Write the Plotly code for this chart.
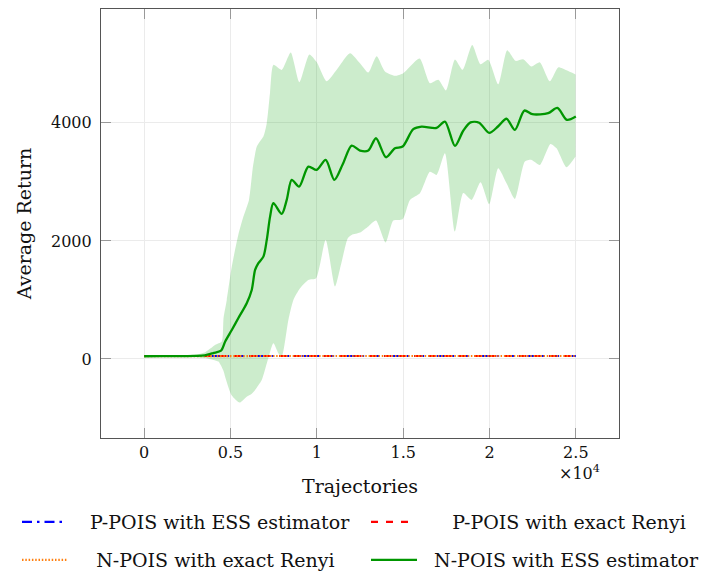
import plotly.graph_objects as go

# ---- N-POIS with ESS estimator: mean return and spread band ----
mean_x = [0, 1000, 2000, 3000, 3500, 4000, 4450, 4700, 5075, 5450, 5940, 6230, 6424, 6615,
          6905, 7100, 7292, 7484, 7966, 8256, 8546, 8970, 9510, 9992, 10513, 11014, 11500,
          12018, 12500, 12982, 13426, 14005, 14525, 14970, 15586, 16068, 16936, 17418,
          17998, 18480, 18900, 19400, 19983, 20504, 20987, 21470, 22020, 22480, 23399,
          23930, 24480, 25000]
mean_y = [45, 46, 48, 52, 62, 100, 140, 300, 491, 690, 944, 1169, 1508, 1622,
          1734, 2017, 2412, 2639, 2458, 2695, 3034, 2920, 3259, 3203, 3373, 3034, 3300,
          3616, 3531, 3531, 3740, 3418, 3570, 3599, 3893, 3938, 3915, 4022,
          3610, 3867, 4008, 4003, 3830, 3943, 4070, 3881, 4209, 4147, 4164,
          4254, 4051, 4107]

upper_x = [0, 2000, 3000, 3500, 4109, 4495, 4600, 4784, 5075, 5450, 5747, 6070, 6300,
           6522, 6713, 6905, 7100, 7292, 7484, 7966, 8488, 8989, 9568, 9992, 10570,
           11149, 11921, 12500, 12982, 13465, 13947, 14525, 15008, 15950, 16551, 17033,
           17478, 17998, 18441, 19000, 19483, 19926, 20504, 21026, 21500, 21952, 22435,
           22917, 23495, 23978, 24461, 24981]
upper_y = [55, 60, 75, 110, 237, 294, 700, 1000, 1565, 2100, 2412, 2695, 3260,
           3600, 3690, 3768, 3994, 4520, 4983, 4898, 5192, 4690, 5160, 5030, 4705,
           4900, 5181, 5011, 4853, 5130, 4870, 4797, 4842, 5090, 4672, 4729,
           4550, 5075, 4900, 5322, 4994, 5068, 4654, 5232, 5052, 5079, 4955,
           5025, 4706, 4940, 4890, 4820]

lower_x = [0, 2000, 3000, 3500, 4012, 4302, 4590, 4688, 5075, 5530, 5940, 6231, 6424,
           6810, 7195, 7484, 7773, 7966, 8352, 8642, 9028, 9510, 9954, 10513, 11053,
           11400, 11800, 12018, 12500, 13000, 13426, 13985, 14429, 14970, 15394, 15972,
           16551, 16936, 17418, 17998, 18480, 18962, 19483, 19983, 20504, 20987, 21470,
           22049, 22435, 22917, 23534, 23882, 24461, 24981]
lower_y = [40, 38, 30, 15, -17, -45, -200, -300, -620, -740, -640, -590, -525,
           -356, 20, 266, 96, 40, 661, 1000, 1198, 1339, 1367, 2017, 1226,
           1600, 2050, 2102, 2141, 2250, 2344, 1972, 2344, 2367, 2695, 2808,
           3170, 3119, 3486, 2158, 2810, 2695, 2995, 2622, 3232, 2978, 2712,
           3345, 3373, 3288, 3644, 3570, 3249, 3429]

# ---- P-POIS / N-POIS (exact Renyi) baselines stay flat near zero ----
flat_x = [0, 2500, 5000, 7500, 10000, 12500, 15000, 17500, 20000, 22500, 25000]
ppois_ess_y = [50, 51, 50, 49, 50, 51, 50, 50, 49, 50, 50]
ppois_renyi_y = [50, 50, 51, 50, 50, 49, 50, 51, 50, 50, 50]
npois_renyi_y = [49, 50, 50, 51, 50, 50, 50, 49, 50, 51, 50]

x_ticks = [0, 5000, 10000, 15000, 20000, 25000]
x_tick_text = ["0", "0.5", "1", "1.5", "2", "2.5"]
y_ticks = [0, 2000, 4000]
y_tick_text = ["0", "2000", "4000"]

FONT = "DejaVu Serif"
INK = "#111"
GREEN = "rgb(0,150,0)"
NB = "\u00a0"

fig = go.Figure()

# spread band (lower edge, then upper edge filled down to it)
fig.add_trace(go.Scatter(x=lower_x, y=lower_y, mode="lines",
                         line=dict(width=0, shape="spline", smoothing=0.6),
                         showlegend=False, hoverinfo="skip"))
fig.add_trace(go.Scatter(x=upper_x, y=upper_y, mode="lines", fill="tonexty",
                         fillcolor="rgba(0,160,0,0.2)",
                         line=dict(width=0, shape="spline", smoothing=0.6),
                         showlegend=False, hoverinfo="skip"))

fig.add_trace(go.Scatter(x=flat_x, y=ppois_ess_y, mode="lines",
                         name=NB * 3 + "P-POIS with ESS estimator",
                         line=dict(color="rgb(0,0,255)", width=2.2,
                                   dash="10px,5px,2.5px,5px"),
                         legend="legend"))
fig.add_trace(go.Scatter(x=flat_x, y=ppois_renyi_y, mode="lines",
                         name=NB * 6 + "P-POIS with exact Renyi",
                         line=dict(color="rgb(255,0,0)", width=2.2, dash="7px,8px"),
                         legend="legend2"))
fig.add_trace(go.Scatter(x=flat_x, y=npois_renyi_y, mode="lines",
                         name=NB * 4 + "N-POIS with exact Renyi",
                         line=dict(color="rgb(255,127,14)", width=2.2, dash="1.5px,1.8px"),
                         legend="legend3"))
fig.add_trace(go.Scatter(x=mean_x, y=mean_y, mode="lines",
                         name=NB * 2 + "N-POIS with ESS estimator",
                         line=dict(color=GREEN, width=2.3, shape="spline", smoothing=0.8),
                         legend="legend4"))

L, R, T, B = 101, 82, 9, 133
W, H = 701, 571
pw, ph = W - L - R, H - T - B


def px_x(px):
    return (px - L) / pw


def px_y(py):
    return (H - B - py) / ph


leg_font = dict(family=FONT, size=19, color=INK)
common = dict(font=leg_font, bgcolor="rgba(0,0,0,0)", borderwidth=0,
              xanchor="left", yanchor="middle", orientation="h")

axis_common = dict(showgrid=True, gridcolor="#ebebeb", gridwidth=1, zeroline=False,
                   showline=True, linecolor="#555", linewidth=1.2, mirror="ticks",
                   ticks="inside", ticklen=10, tickcolor="#999", tickwidth=1,
                   tickfont=dict(family=FONT, size=16, color=INK), automargin=False)

fig.update_layout(
    width=W, height=H,
    margin=dict(l=L, r=R, t=T, b=B, autoexpand=False),
    paper_bgcolor="white", plot_bgcolor="white",
    xaxis=dict(range=[-2500, 27500], tickvals=x_ticks, ticktext=x_tick_text,
               title=dict(text="Trajectories", font=dict(family=FONT, size=19, color=INK),
                          standoff=18),
               **axis_common),
    yaxis=dict(range=[-1340, 5930], tickvals=y_ticks, ticktext=y_tick_text,
               ticklabelstandoff=5,
               title=dict(text="Average Return", font=dict(family=FONT, size=19, color=INK),
                          standoff=14),
               **axis_common),
    legend=dict(x=px_x(17), y=px_y(522), itemwidth=45, **common),
    legend2=dict(x=px_x(366), y=px_y(522), itemwidth=40, **common),
    legend3=dict(x=px_x(17), y=px_y(560), itemwidth=45, **common),
    legend4=dict(x=px_x(366), y=px_y(560), itemwidth=46, **common),
    annotations=[dict(x=25000, xref="x", y=px_y(472), yref="paper", xshift=4,
                      text="×10<sup>4</sup>", showarrow=False,
                      font=dict(family=FONT, size=16, color=INK),
                      xanchor="center", yanchor="middle")],
)

fig.write_html("out.html")
